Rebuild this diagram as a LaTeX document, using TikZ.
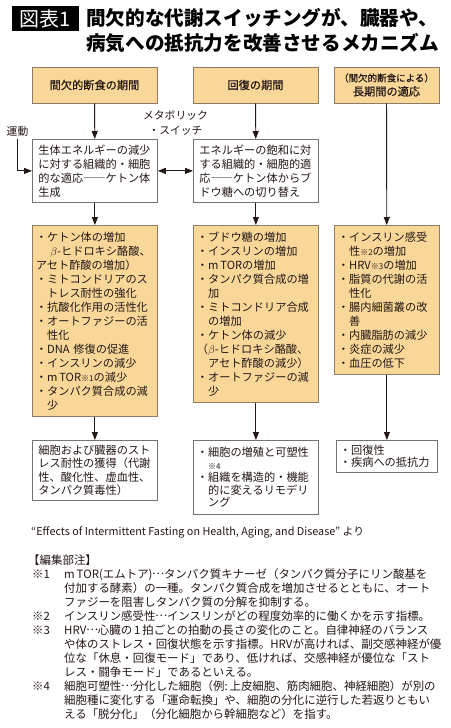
\documentclass[tikz,border=0pt]{standalone}
\usepackage{fontspec}
\setmainfont{Noto Sans CJK JP}
\newfontfamily\medfont{Noto Sans CJK JP}[FakeBold=0.6]
\usetikzlibrary{arrows.meta}

\definecolor{tanfill}{RGB}{249,215,153}
\definecolor{tanline}{RGB}{140,124,100}
\definecolor{grayline}{RGB}{115,115,115}
\definecolor{ink}{RGB}{35,24,21}

\newcommand{\ind}{\hspace*{1em}}
\newcommand{\sm}[1]{{\fontsize{8}{8}\selectfont #1}}
\newcommand{\mk}[1]{\makebox[32pt][l]{#1}}
\newcommand{\dotsj}{\makebox[1em]{\raisebox{0.3em}{…}}}

\tikzset{
    arr/.style = {-{Triangle[length=8pt,width=6pt]}, line width=0.9pt, draw=ink},
    boxtxt/.style = {font=\fontsize{11.2}{14}\selectfont, text=ink, align=left, anchor=north west, inner ysep=0pt},
    hdr/.style = {draw=tanline, fill=tanfill, line width=0.8pt, minimum height=36pt, inner sep=0pt, align=center, text=ink, font=\medfont\fontsize{11.2}{14}\selectfont},
    tanbox/.style = {boxtxt, draw=tanline, fill=tanfill, line width=0.8pt, inner xsep=3.5pt},
    whbox/.style = {boxtxt, draw=grayline, fill=white, line width=0.8pt},
    notetxt/.style = {font=\fontsize{11.45}{14}\selectfont, text=ink, inner sep=0pt, align=left},
}

\begin{document}
\begin{tikzpicture}[x=1pt,y=-1pt]
        \fill[white] (0,0) rectangle (450,728);
        \useasboundingbox (0,0) rectangle (450,728);

        %title:
        \node[fill=black, text=white, minimum width=67pt, minimum height=25pt, inner sep=0pt,
            font=\fontsize{20}{20}\selectfont] (tag) at (45.5,18.5) {図表1};
        \node[anchor=west, inner sep=0pt, align=left, text=black,
            font=\bfseries\fontsize{19.6}{25}\selectfont] (ttl) at (86,30.5)
            {間欠的な代謝スイッチングが、臓器や、\\病気への抵抗力を改善させるメカニズム};

        %headers:
        \foreach \x/\w/\n/\l in {94.5/125/h1/間欠的断食の期間,255.5/125/h2/回復の期間}{
            \node[hdr, minimum width=\w pt] (\n) at (\x,85) {\l};
        }
        \node[hdr, minimum width=105pt] (h3) at (386.5,85)
            {{\fontsize{9.5}{14}\selectfont （間欠的断食による）}\\長期間の適応};

        %switch:
        \node[whbox, text width=113pt, inner xsep=6pt, minimum height=63pt] (s1) at (32,139)
            {生体エネルギーの減少\\に対する組織的・細胞\\的な適応――ケトン体\\生成};
        \node[whbox, text width=113pt, inner xsep=6pt, minimum height=63pt] (s2) at (193,139)
            {エネルギーの飽和に対\\する組織的・細胞的適\\応――ケトン体からブ\\ドウ糖への切り替え};
        \node[align=center, inner sep=0pt, text=ink, font=\fontsize{10.8}{15}\selectfont] (mt) at (175.5,122.5)
            {メタボリック\\・スイッチ};
        \node[inner sep=0pt, text=ink, font=\fontsize{10.8}{13}\selectfont] (ex) at (17.5,131) {運動};

        %changes:
        \node[tanbox, text width=118pt, minimum height=191pt] (c1) at (32,225)
            {・ケトン体の増加\\
            \hspace*{1.3em}$\beta$-ヒドロキシ酪酸、\\
            アセト酢酸の増加）\\
            ・ミトコンドリアのス\\
            \ind トレス耐性の強化\\
            ・抗酸化作用の活性化\\
            ・オートファジーの活\\
            \ind 性化\\
            ・DNA 修復の促進\\
            ・インスリンの減少\\
            ・m\,TOR\sm{※1}の減少\\
            ・タンパク質合成の減\\
            \ind 少};
        \node[tanbox, text width=118pt, minimum height=177pt] (c2) at (193,225)
            {・ブドウ糖の増加\\
            ・インスリンの増加\\
            ・m\,TORの増加\\
            ・タンパク質合成の増\\
            \ind 加\\
            ・ミトコンドリア合成\\
            \ind の増加\\
            ・ケトン体の減少\\
            （$\beta$-ヒドロキシ酪酸、\\
            \ind アセト酢酸の減少）\\
            ・オートファジーの減\\
            \ind 少};
        \node[tanbox, text width=98pt, minimum height=149pt] (c3) at (334,225)
            {・インスリン感受\\
            \ind 性\sm{※2}の増加\\
            ・HRV\sm{※3}の増加\\
            ・脂質の代謝の活\\
            \ind 性化\\
            ・腸内細菌叢の改\\
            \ind 善\\
            ・内臓脂肪の減少\\
            ・炎症の減少\\
            ・血圧の低下};

        %outcomes:
        \node[whbox, text width=113pt, inner xsep=6pt, minimum height=60pt, font=\fontsize{11.2}{13.3}\selectfont] (o1) at (32,440)
            {細胞および臓器のスト\\レス耐性の獲得（代謝\\性、酸化性、虚血性、\\タンパク質毒性）};
        \node[whbox, text width=118pt, inner xsep=3.5pt, minimum height=74pt, font=\fontsize{11.2}{12.5}\selectfont] (o2) at (193,440)
            {・細胞の増殖と可塑性\\\ind\sm{※4}\\・組織を構造的・機能\\\ind 的に変えるリモデリ\\\ind ング};
        \node[whbox, text width=94pt, inner xsep=3.5pt, minimum height=32pt, font=\fontsize{11.2}{12.5}\selectfont] (o3) at (336,440)
            {・回復性\\・疾病への抵抗力};

        \foreach \m/\n in {h1/s1,s1/c1,c1/o1,h2/s2,s2/c2,c2/o2,h3/c3,c3/o3}{
            \draw[arr] (\m) -- (\n);
        }
        \draw[arr] ([yshift=-3pt]ex.south) |- (s1.west);
        \draw[arr, {Triangle[length=8pt,width=6pt]}-{Triangle[length=8pt,width=6pt]}] (s1) -- (s2);

        %source and notes:
        \node[anchor=west, inner sep=0pt, text=ink, font=\fontsize{10.8}{13}\selectfont] (src) at (31,532)
            {“Effects of Intermittent Fasting on Health, Aging, and Disease” より};
        \node[notetxt, anchor=north west, text width=440pt] (nt) at (32,554.5)
            {\hspace*{-4pt}【編集部注】\\
            \mk{※1}m\,TOR(エムトア)\dotsj タンパク質キナーゼ（タンパク質分子にリン酸基を\\
            \mk{}付加する酵素）の一種。タンパク質合成を増加させるとともに、オート\\
            \mk{}ファジーを阻害しタンパク質の分解を抑制する。\\
            \mk{※2}インスリン感受性\dotsj インスリンがどの程度効率的に働くかを示す指標。\\
            \mk{※3}HRV\dotsj 心臓の\,1\,拍ごとの拍動の長さの変化のこと。自律神経のバランス\\
            \mk{}や体のストレス・回復状態を示す指標。HRVが高ければ、副交感神経が優\\
            \mk{}位な「休息・回復モード」であり、低ければ、交感神経が優位な「スト\\
            \mk{}レス・闘争モード」であるといえる。\\
            \mk{※4}細胞可塑性\dotsj 分化した細胞（例:\,上皮細胞、筋肉細胞、神経細胞）が別の\\
            \mk{}細胞種に変化する「運命転換」や、細胞の分化に逆行した若返りともい\\
            \mk{}える「脱分化」（分化細胞から幹細胞など）を指す。};
\end{tikzpicture}
\end{document}
